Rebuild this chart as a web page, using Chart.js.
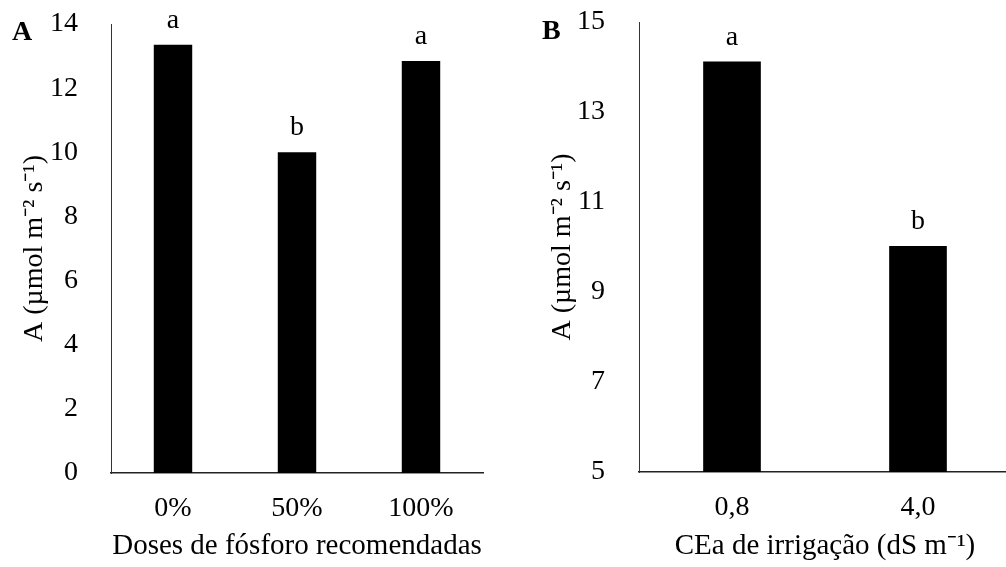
<!DOCTYPE html>
<html>
<head>
<meta charset="utf-8">
<script src="https://cdn.jsdelivr.net/npm/chart.js@4/dist/chart.umd.min.js"></script>
<style>
  html, body { margin: 0; padding: 0; background: #fff; overflow: hidden; }
  #wrap { position: relative; width: 1006px; height: 567px; overflow: hidden; }
  #chartA { position: absolute; left: 0; top: 0; }
  #chartB { position: absolute; left: 500px; top: 0; }
</style>
</head>
<body>
<div id="wrap">
  <canvas id="chartA" width="500" height="567"></canvas>
  <canvas id="chartB" width="520" height="567"></canvas>
</div>
<script>
// Panel A - phosphorus doses
const doseLabels = ['0%', '50%', '100%'];
const doseValues = [13.35, 10.0, 12.85];
const doseLetters = ['a', 'b', 'a'];

// Panel B - irrigation water salinity
const ceaLabels = ['0,8', '4,0'];
const ceaValues = [14.12, 10.02];
const ceaLetters = ['a', 'b'];

const serif = "'Liberation Serif', 'Times New Roman', serif";

// draws the significance letters over each bar and the panel letter
const letterPlugin = {
  id: 'letters',
  afterDatasetsDraw(chart, args, opts) {
    const ctx = chart.ctx;
    const meta = chart.getDatasetMeta(0);
    ctx.save();
    ctx.fillStyle = '#000';
    ctx.font = '28px ' + serif;
    ctx.textAlign = 'center';
    ctx.textBaseline = 'alphabetic';
    meta.data.forEach((bar, i) => {
      ctx.fillText(opts.letters[i], bar.x, bar.y - 17);
    });
    ctx.font = 'bold 28px ' + serif;
    ctx.textAlign = 'left';
    ctx.textBaseline = 'middle';
    ctx.fillText(opts.panel, opts.panelX, opts.panelY);
    ctx.restore();
  }
};

function makeChart(id, cfg) {
  const ctx = document.getElementById(id);
  return new Chart(ctx, {
    type: 'bar',
    data: {
      labels: cfg.labels,
      datasets: [{
        data: cfg.values,
        backgroundColor: '#000',
        borderWidth: 0,
        categoryPercentage: 1,
        barPercentage: 0.31
      }]
    },
    options: {
      responsive: false,
      animation: false,
      layout: { padding: cfg.padding },
      plugins: {
        legend: { display: false },
        tooltip: { enabled: false },
        letters: { letters: cfg.letters, panel: cfg.panel, panelX: cfg.panelX, panelY: cfg.panelY }
      },
      scales: {
        x: {
          grid: { display: false },
          border: { display: true, color: '#222', width: 1.5 },
          ticks: { color: '#000', font: { family: serif, size: 28 }, padding: 11, maxRotation: 0 },
          title: { display: true, text: cfg.xTitle, color: '#000', font: { family: serif, size: 29 }, padding: { top: 0, bottom: 3 } },
          afterFit: (s) => { s.height = cfg.xHeight; }
        },
        y: {
          min: cfg.yMin,
          max: cfg.yMax,
          grid: { display: false },
          border: { display: true, color: '#333', width: 1 },
          ticks: { stepSize: cfg.yStep, color: '#000', font: { family: serif, size: 28 }, padding: cfg.tickPad, autoSkip: false },
          title: { display: true, text: 'A (µmol m⁻² s⁻¹)', color: '#000', font: { family: serif, size: 28 }, padding: { top: cfg.yTitlePad, bottom: 0 } },
          afterFit: (s) => {
            s.width = cfg.yWidth;
            // the layout padding already leaves room for the top label
            s.paddingTop = 0;
            s.paddingBottom = 0;
          }
        }
      }
    },
    plugins: [letterPlugin]
  });
}

makeChart('chartA', {
  labels: doseLabels, values: doseValues, letters: doseLetters,
  panel: 'A', panelX: 12, panelY: 33,
  padding: { top: 24, right: 17, left: 0, bottom: 0 },
  xTitle: 'Doses de fósforo recomendadas', xHeight: 94,
  yMin: 0, yMax: 14, yStep: 2, tickPad: 25, yTitlePad: 18, yWidth: 111
});

makeChart('chartB', {
  labels: ceaLabels, values: ceaValues, letters: ceaLetters,
  panel: 'B', panelX: 42, panelY: 32,
  padding: { top: 22, right: 9, left: 0, bottom: 0 },
  xTitle: 'CEa de irrigação (dS m⁻¹)', xHeight: 95,
  yMin: 5, yMax: 15, yStep: 2, tickPad: 26, yTitlePad: 46, yWidth: 139
});
</script>
</body>
</html>
